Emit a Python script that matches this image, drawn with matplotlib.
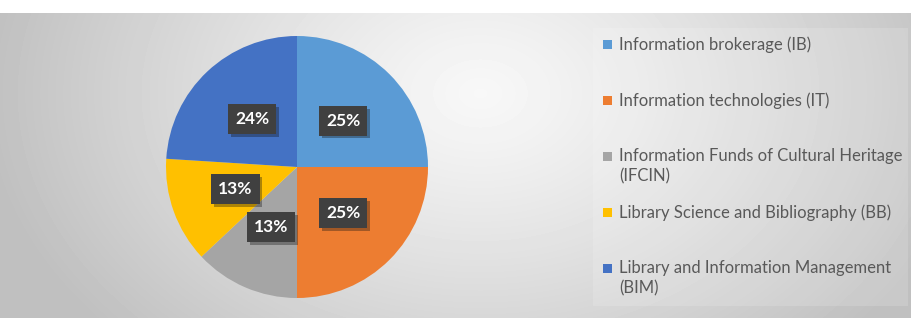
import numpy as np
import matplotlib
matplotlib.use('Agg')
import matplotlib.pyplot as plt
import matplotlib.patheffects as pe
from matplotlib.patches import Rectangle

# Data
categories = ['Information brokerage (IB)',
              'Information technologies (IT)',
              'Information Funds of Cultural Heritage\n(IFCIN)',
              'Library Science and Bibliography (BB)',
              'Library and Information Management\n(BIM)']
shares = [25, 25, 13, 13, 24]
colors = ['#5B9BD5', '#ED7D31', '#A5A5A5', '#FFC000', '#4472C4']

W, H = 911, 324
fig = plt.figure(figsize=(W / 100, H / 100), dpi=100)
fig.patch.set_facecolor('white')

# Chart area background: radial grey gradient
bg = fig.add_axes([0, 6 / H, 1, (318 - 13) / H])
yy, xx = np.mgrid[0:305, 0:W]
d = np.sqrt(((xx - 480) / 500.0) ** 2 + ((yy - 80) / 360.0) ** 2)
d = np.clip(d, 0, 1)
shade = 0.97 - 0.22 * d ** 1.2
bg.imshow(shade, cmap='gray', vmin=0, vmax=1, aspect='auto', extent=(0, W, 305, 0))
bg.axis('off')
bg.add_patch(Rectangle((593, 15), 315, 278, facecolor='white', alpha=0.15, edgecolor='none'))

# Pie
cx, cy, r = 297, 167, 131
ax = fig.add_axes([(cx - r) / W, (H - cy - r) / H, 2 * r / W, 2 * r / H])
wedges, texts, autotexts = ax.pie(shares, colors=colors, startangle=90, counterclock=False,
                                  autopct='%1.0f%%', pctdistance=0.5,
                                  wedgeprops=dict(linewidth=0),
                                  textprops=dict(color='white', fontsize=12.5, fontweight='bold',
                                                 family='Lato'))
ax.set_xlim(-1, 1)
ax.set_ylim(-1, 1)
ax.set_aspect('auto')
for t in autotexts:
    t.set_bbox(dict(boxstyle='square,pad=0.4', facecolor='#404040', edgecolor='none'))
    t.get_bbox_patch().set_path_effects([pe.withSimplePatchShadow(offset=(2, -2), alpha=0.35)])

# Legend drawn as Excel lays it out
for i, (lab, c) in enumerate(zip(categories, colors)):
    ytop = 36 + i * 56
    fig.patches.append(Rectangle((603 / W, 1 - (ytop + 13) / H), 9 / W, 9 / H,
                                 transform=fig.transFigure, facecolor=c, edgecolor='none'))
    fig.text(619 / W, 1 - ytop / H, lab, fontsize=12, color='#595959', family='Lato',
             va='top', ha='left', linespacing=1.3)

fig.savefig('out.png', dpi=100)
